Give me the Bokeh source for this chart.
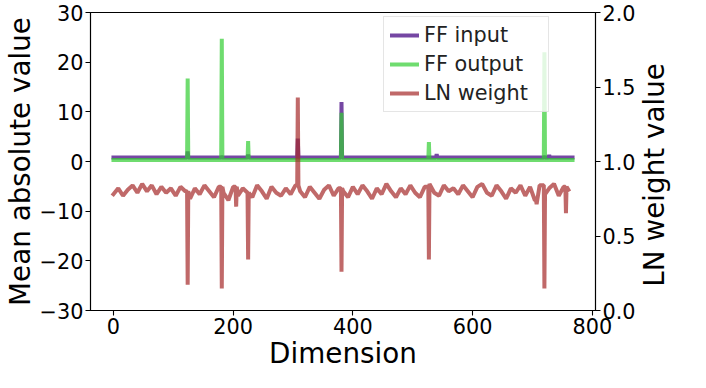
import math
import numpy as np
from bokeh.plotting import figure
from bokeh.models import Range1d, LinearAxis, Legend, LegendItem, FixedTicker
from bokeh.embed import file_html
from bokeh.resources import INLINE

N_DIM = 768

# FF input (mean absolute value, left axis)
ff_in_base = 0.82
ff_in_spike_dims = [124, 181, 225, 308, 381, 540, 720, 728]
ff_in_spike_vals = [2.0, 0.9, 1.4, 4.6, 12.0, 1.5, 0.9, 1.3]

# FF output (mean absolute value, left axis)
ff_out_base = 0.3
ff_out_spike_dims = [124, 181, 225, 381, 527, 720]
ff_out_spike_vals = [16.7, 24.7, 4.1, 9.8, 3.9, 22.0]

# LN weight (right axis); baseline read every 8 dimensions (dims 0, 8, ..., 760)
ln_base = [
    0.78, 0.82, 0.77, 0.81, 0.84, 0.79, 0.85, 0.80, 0.84, 0.78, 0.83, 0.79,
    0.82, 0.77, 0.83, 0.80, 0.75, 0.82, 0.78, 0.84, 0.80, 0.76, 0.83, 0.79,
    0.74, 0.83, 0.77, 0.82, 0.79, 0.76, 0.84, 0.80, 0.75, 0.83, 0.79, 0.77,
    0.82, 0.78, 0.84, 0.80, 0.76, 0.83, 0.79, 0.75, 0.81, 0.84, 0.77, 0.82,
    0.80, 0.76, 0.83, 0.78, 0.84, 0.80, 0.75, 0.82, 0.78, 0.85, 0.80, 0.76,
    0.82, 0.78, 0.84, 0.79, 0.76, 0.83, 0.85, 0.79, 0.77, 0.84, 0.80, 0.82,
    0.78, 0.84, 0.80, 0.76, 0.83, 0.85, 0.79, 0.77, 0.84, 0.80, 0.75, 0.82,
    0.79, 0.84, 0.77, 0.83, 0.74, 0.84, 0.78, 0.82, 0.85, 0.77, 0.83, 0.81,
]
ln_spike_dims = [124, 181, 205, 225, 308, 381, 527, 707, 720, 756]
ln_spike_vals = [0.173, 0.147, 0.697, 0.343, 1.43, 0.26, 0.343, 0.713, 0.147, 0.653]

x_ticks = [0, 200, 400, 600, 800]
y_ticks = [-30, -20, -10, 0, 10, 20, 30]
ln_ticks = [0.0, 0.5, 1.0, 1.5, 2.0]

dims = np.arange(N_DIM)

ff_in = np.full(N_DIM, ff_in_base)
ff_in[ff_in_spike_dims] = ff_in_spike_vals
ff_out = np.full(N_DIM, ff_out_base)
ff_out[ff_out_spike_dims] = ff_out_spike_vals

# LN points: the read baseline samples, plus each spike with its adjacent dims held at the baseline
pts = {8 * i: v for i, v in enumerate(ln_base)}
for d, v in zip(ln_spike_dims, ln_spike_vals):
    pts.setdefault(d - 1, ln_base[(d - 1) // 8])
    pts.setdefault(d + 1, ln_base[(d + 1) // 8])
for d, v in zip(ln_spike_dims, ln_spike_vals):
    pts[d] = v
ln_x = np.array(sorted(pts))
ln_y = np.array([pts[d] for d in ln_x])

FONT = "DejaVu Sans"
PURPLE = "#663399"
GREEN = "#32cd32"
BROWN = "#a52a2a"

p = figure(width=690, height=372, output_backend="svg", toolbar_location=None,
           x_range=Range1d(-38.35, 805.35), y_range=Range1d(-30, 30),
           min_border_left=85, min_border_right=0, min_border_top=12, min_border_bottom=0)
p.extra_y_ranges = {"ln": Range1d(0, 2)}

p.grid.visible = False
p.outline_line_color = "black"
p.outline_line_width = 1.1

r_in = p.line(dims, ff_in, line_color=PURPLE, line_alpha=0.9, line_width=4, line_cap="square")
r_out = p.line(dims, ff_out, line_color=GREEN, line_alpha=0.7, line_width=4, line_cap="square")
r_ln = p.line(ln_x, ln_y, line_color=BROWN, line_alpha=0.7, line_width=4, line_cap="square",
              y_range_name="ln")

right_axis = LinearAxis(y_range_name="ln")
p.add_layout(right_axis, "right")

for ax in [p.xaxis[0], p.yaxis[0], right_axis]:
    ax.major_label_text_font = FONT
    ax.major_label_text_font_size = "20.8px"
    ax.major_label_text_color = "black"
    ax.axis_label_text_font = FONT
    ax.axis_label_text_font_size = "27.8px"
    ax.axis_label_text_font_style = "normal"
    ax.axis_label_text_color = "black"
    ax.minor_tick_line_color = None
    ax.major_tick_out = 5
    ax.major_tick_in = 0
    ax.axis_line_width = 1.1
    ax.major_tick_line_width = 1.1
    ax.major_label_standoff = 2
    ax.axis_label_standoff = 0

p.xaxis[0].ticker = FixedTicker(ticks=x_ticks)
p.yaxis[0].ticker = FixedTicker(ticks=y_ticks)
right_axis.ticker = FixedTicker(ticks=ln_ticks)
right_axis.major_label_overrides = {t: f"{t:.1f}" for t in ln_ticks}
p.yaxis[0].major_label_overrides = {t: (f"\u2212{abs(t)}" if t < 0 else str(t)) for t in y_ticks}

p.xaxis[0].axis_label = "Dimension"
p.yaxis[0].axis_label = "Mean absolute value"

# right-hand title, drawn as the single rotated label of an extra (line-less) right axis
title_axis = LinearAxis(y_range_name="ln", ticker=FixedTicker(ticks=[1.0]),
                        major_label_overrides={1.0: "LN weight value"},
                        major_label_orientation=math.pi / 2,
                        major_label_text_font=FONT, major_label_text_font_size="27.8px",
                        major_label_text_color="black", major_label_standoff=16,
                        axis_line_color=None, major_tick_line_color=None,
                        minor_tick_line_color=None, major_tick_out=0, major_tick_in=0)
p.add_layout(title_axis, "right")

legend = Legend(items=[
    LegendItem(label="FF input", renderers=[r_in]),
    LegendItem(label="FF output", renderers=[r_out]),
    LegendItem(label="LN weight", renderers=[r_ln]),
], location=(293, 198))
legend.label_text_font = FONT
legend.label_text_font_size = "20.8px"
legend.label_text_color = "#222222"
legend.glyph_width = 29
legend.glyph_height = 24
legend.label_height = 24
legend.label_width = 118
legend.spacing = 5
legend.padding = 6
legend.margin = 0
legend.border_line_color = "#cccccc"
legend.border_line_width = 1.2
legend.background_fill_alpha = 0.8
p.add_layout(legend, "center")

open("out.html", "w").write(file_html(p, INLINE))
